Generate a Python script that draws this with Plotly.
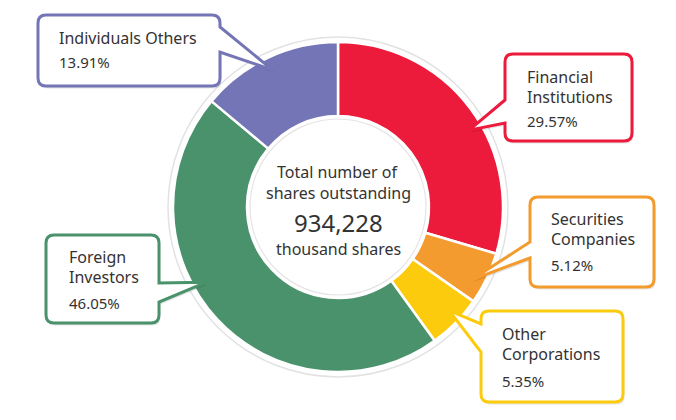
import math
import plotly.graph_objects as go

# shareholder structure (% of total shares outstanding)
categories = ["Financial Institutions", "Securities Companies", "Other Corporations",
              "Foreign Investors", "Individuals Others"]
share_pct = [29.57, 5.12, 5.35, 46.05, 13.91]
label_lines = [["Financial", "Institutions"], ["Securities", "Companies"],
               ["Other", "Corporations"], ["Foreign", "Investors"], ["Individuals Others"]]
total_shares = 934228  # thousand shares
colors = ["#EC1B3B", "#F39B2E", "#FCCB0E", "#4A926B", "#7475B6"]

# page has an 8px body margin, so the figure is drawn 8px smaller and all
# positions below are given in window pixels and shifted back by OFF
W, H, OFF = 676, 420, 8
FW, FH = W - OFF, H - OFF
CX, CY, R = 338, 207, 165   # donut centre / outer radius in px
HOLE_R = 91
FONT = "Noto Sans"
TXT = "#333333"


def to_paper(x, y):
    return (x - OFF) / FW, 1 - (y - OFF) / FH


def pt(x, y):
    a, b = to_paper(x, y)
    return f"{a:.5f},{b:.5f}"


def callout_path(box, side, base, tip, rad=8, dx=0, dy=0):
    x0, y0, x1, y1 = box[0] + dx, box[1] + dy, box[2] + dx, box[3] + dy
    b0, b1 = base[0] + dy, base[1] + dy
    tx, ty = tip[0] + dx, tip[1] + dy
    p = [f"M{pt(x0 + rad, y0)}", f"L{pt(x1 - rad, y0)}", f"Q{pt(x1, y0)} {pt(x1, y0 + rad)}"]
    if side == "right":
        p += [f"L{pt(x1, b0)}", f"L{pt(tx, ty)}", f"L{pt(x1, b1)}"]
    p += [f"L{pt(x1, y1 - rad)}", f"Q{pt(x1, y1)} {pt(x1 - rad, y1)}",
          f"L{pt(x0 + rad, y1)}", f"Q{pt(x0, y1)} {pt(x0, y1 - rad)}"]
    if side == "left":
        p += [f"L{pt(x0, b1)}", f"L{pt(tx, ty)}", f"L{pt(x0, b0)}"]
    p += [f"L{pt(x0, y0 + rad)}", f"Q{pt(x0, y0)} {pt(x0 + rad, y0)}", "Z"]
    return " ".join(p)


def circle(r, **kw):
    x0, y0 = to_paper(CX - r, CY + r)
    x1, y1 = to_paper(CX + r, CY - r)
    return dict(type="circle", xref="paper", yref="paper", x0=x0, y0=y0, x1=x1, y1=y1, **kw)


# callout boxes (px, from top-left), in the same order as categories
callouts = [
    dict(box=(505, 54, 632, 141), side="left", base=(100, 123), frac=0.56, tx=525, ty=[77, 97, 121]),
    dict(box=(530, 197, 654, 287), side="left", base=(242, 258), frac=0.66, tx=549, ty=[219, 239, 265]),
    dict(box=(481, 311, 623, 402), side="left", base=(324, 352), frac=0.42, tx=500, ty=[334, 354, 381]),
    dict(box=(46, 235, 159, 323), side="right", base=(283, 302), frac=0.58, tx=67, ty=[257, 277, 303]),
    dict(box=(38, 15, 220, 86), side="right", base=(27, 52), frac=0.49, tx=57, ty=[38, 62]),
]

dx0, dy0 = to_paper(CX - R, CY + R)
dx1, dy1 = to_paper(CX + R, CY - R)

fig = go.Figure(go.Pie(
    labels=categories, values=share_pct, sort=False, direction="clockwise", rotation=0,
    hole=HOLE_R / R, marker=dict(colors=colors, line=dict(color="white", width=2.5)),
    textinfo="none", hoverinfo="label+percent", showlegend=False,
    domain=dict(x=[dx0, dx1], y=[dy0, dy1]),
))

shapes = [
    circle(R + 5, layer="below", fillcolor="white", line=dict(color="#e2e2e2", width=1.5)),
    circle(HOLE_R - 3, layer="above", fillcolor="white", line=dict(color="#e4e4e4", width=1.2)),
]
annotations = []

total = sum(share_pct)
start = 0
for i, c in enumerate(callouts):
    span = share_pct[i] / total * 360
    ang = math.radians(start + span * c["frac"])
    start += span
    tip = (CX + 152 * math.sin(ang), CY - 152 * math.cos(ang))
    # soft shadow then the bordered box
    shapes.append(dict(type="path", xref="paper", yref="paper", layer="above",
                       path=callout_path(c["box"], c["side"], c["base"], tip, dx=1.5, dy=2.5),
                       fillcolor="rgba(0,0,0,0.10)", line=dict(width=0)))
    shapes.append(dict(type="path", xref="paper", yref="paper", layer="above",
                       path=callout_path(c["box"], c["side"], c["base"], tip),
                       fillcolor="white", line=dict(color=colors[i], width=3)))
    lines = label_lines[i] + [f"{share_pct[i]:.2f}%"]
    for j, txt in enumerate(lines):
        ax, ay = to_paper(c["tx"], c["ty"][j])
        annotations.append(dict(x=ax, y=ay, xref="paper", yref="paper", text=txt,
                                showarrow=False, xanchor="left", yanchor="middle",
                                font=dict(family=FONT, size=15 if j == len(lines) - 1 else 16, color=TXT)))

# centre text
for txt, y, size in [("Total number of", 172, 16), ("shares outstanding", 193, 16),
                     (f"{total_shares:,}", 222, 24), ("thousand shares", 249, 16)]:
    ax, ay = to_paper(CX, y)
    annotations.append(dict(x=ax, y=ay, xref="paper", yref="paper", text=txt, showarrow=False,
                            xanchor="center", yanchor="middle", borderpad=0,
                            font=dict(family=FONT, size=size, color=TXT)))

fig.update_layout(width=FW, height=FH, margin=dict(l=0, r=0, t=0, b=0),
                  paper_bgcolor="white", plot_bgcolor="white",
                  shapes=shapes, annotations=annotations)

fig.write_html("out.html")
